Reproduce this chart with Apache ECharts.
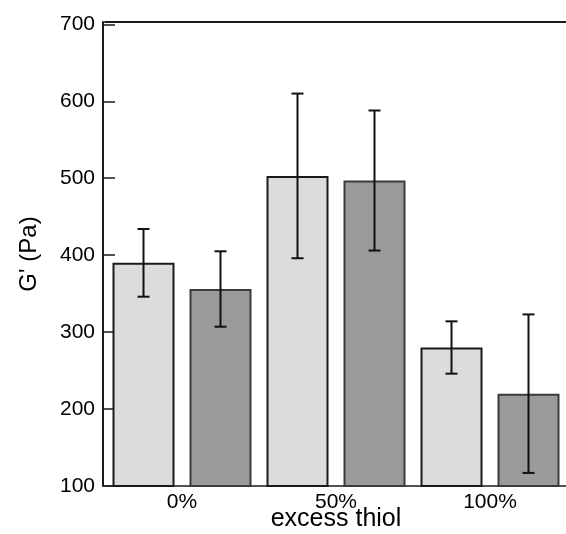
<!DOCTYPE html>
<html>
<head>
<meta charset="utf-8">
<script src="https://cdn.jsdelivr.net/npm/echarts@6/dist/echarts.min.js"></script>
<style>
  html, body { margin: 0; padding: 0; background: #fff; }
  #chart { width: 566px; height: 534px; }
</style>
</head>
<body>
<div id="chart"></div>
<script>
// Storage modulus by excess thiol content
const categories = ['0%', '50%', '100%'];
const lightValues = [390, 503, 280];
const lightErrors = [44, 107, 34];
const darkValues = [356, 497, 220];
const darkErrors = [49, 91, 103];
const yTicks = [100, 200, 300, 400, 500, 600, 700];

const FONT = 'Liberation Sans, Arial, Helvetica, sans-serif';
const BAR_W = 62;
const BAR_GAP = 15;

function errorSeries(values, errors, side) {
  return {
    type: 'custom',
    z: 5,
    data: values.map((v, i) => [i, v - errors[i], v + errors[i]]),
    renderItem: function (params, api) {
      const idx = api.value(0);
      const lo = api.coord([idx, api.value(1)]);
      const hi = api.coord([idx, api.value(2)]);
      const x = lo[0] + side * (BAR_W + BAR_GAP) / 2;
      const cap = 6;
      const style = { stroke: '#111', lineWidth: 2 };
      return {
        type: 'group',
        children: [
          { type: 'line', shape: { x1: x, y1: hi[1], x2: x, y2: lo[1] }, style: style },
          { type: 'line', shape: { x1: x - cap, y1: hi[1], x2: x + cap, y2: hi[1] }, style: style },
          { type: 'line', shape: { x1: x - cap, y1: lo[1], x2: x + cap, y2: lo[1] }, style: style }
        ]
      };
    }
  };
}

const chart = echarts.init(document.getElementById('chart'), null, { renderer: 'canvas' });
chart.setOption({
  animation: false,
  backgroundColor: '#fff',
  grid: { left: 105, right: -1, top: 22, bottom: 48, containLabel: false, outerBoundsMode: 'none' },
  xAxis: [{
    type: 'category',
    data: categories,
    name: 'excess thiol',
    nameLocation: 'middle',
    nameGap: 21,
    nameMoveOverlap: false,
    nameTextStyle: { fontFamily: FONT, fontSize: 25, color: '#000' },
    axisLine: { lineStyle: { color: '#1a1a1a', width: 1.5 } },
    axisTick: { inside: true, length: 10, lineStyle: { color: '#1a1a1a', width: 1.5 } },
    axisLabel: { fontFamily: FONT, fontSize: 21, color: '#000', margin: 6 },
    splitLine: { show: false }
  }, {
    type: 'category',
    data: categories,
    position: 'top',
    axisLine: { lineStyle: { color: '#1a1a1a', width: 2 } },
    axisTick: { show: false },
    axisLabel: { show: false },
    splitLine: { show: false }
  }],
  yAxis: {
    type: 'value',
    min: yTicks[0],
    max: yTicks[yTicks.length - 1] + 3,
    interval: yTicks[1] - yTicks[0],
    offset: 2,
    name: "G' (Pa)",
    nameLocation: 'middle',
    nameGap: 62,
    nameMoveOverlap: false,
    nameTextStyle: { fontFamily: FONT, fontSize: 24, color: '#000' },
    axisLine: { show: true, lineStyle: { color: '#1a1a1a', width: 2 } },
    axisTick: { show: true, inside: true, length: 12, lineStyle: { color: '#1a1a1a', width: 1.5 } },
    axisLabel: { fontFamily: FONT, fontSize: 21, color: '#000', margin: 8, showMaxLabel: false },
    splitLine: { show: false }
  },
  series: [{
    type: 'bar',
    data: lightValues,
    barWidth: BAR_W,
    barGap: (BAR_GAP / BAR_W * 100) + '%',
    itemStyle: { color: '#dcdcdc', borderColor: '#1a1a1a', borderWidth: 2 }
  }, {
    type: 'bar',
    data: darkValues,
    barWidth: BAR_W,
    itemStyle: { color: '#9a9a9a', borderColor: '#3a3a3a', borderWidth: 2 }
  },
  errorSeries(lightValues, lightErrors, -1),
  errorSeries(darkValues, darkErrors, 1)]
});
</script>
</body>
</html>
